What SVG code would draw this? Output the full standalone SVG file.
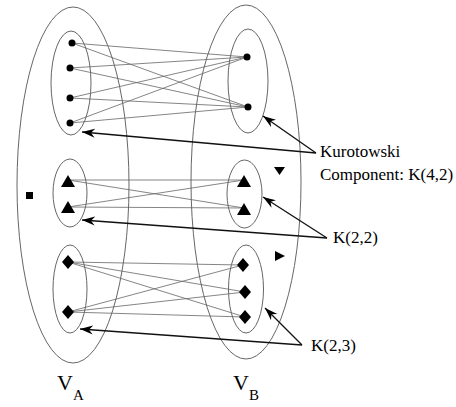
<svg xmlns="http://www.w3.org/2000/svg" width="456" height="407" viewBox="0 0 456 407">
<style>
.ell{fill:none;stroke:#666;stroke-width:1}
.e{stroke:#666;stroke-width:0.8;fill:none}
.arr{stroke:#111;stroke-width:1.3;fill:none;marker-end:url(#ah)}
.n{fill:#000}
.t{font-family:"Liberation Serif","Times New Roman",serif;fill:#000}
</style>
<defs>
<marker id="ah" markerUnits="userSpaceOnUse" markerWidth="14" markerHeight="10" refX="13" refY="4.5" orient="auto" viewBox="0 0 14 9">
<path d="M0,0 L13,4.5 L0,9 L4,4.5 Z" fill="#000"/>
</marker>
</defs>
<rect width="456" height="407" fill="#fff"/>
<g id="VA"><ellipse class="ell" cx="73" cy="185" rx="56" ry="178"/></g>
<g id="VB"><ellipse class="ell" cx="246" cy="182" rx="55" ry="177"/></g>
<g id="A1"><ellipse class="ell" cx="71" cy="83" rx="20" ry="52"/></g>
<g id="B1"><ellipse class="ell" cx="248" cy="81" rx="20" ry="52"/></g>
<g id="A2"><ellipse class="ell" cx="70" cy="193" rx="17" ry="34"/></g>
<g id="B2"><ellipse class="ell" cx="244.5" cy="194" rx="17.5" ry="34"/></g>
<g id="A3"><ellipse class="ell" cx="70" cy="289" rx="17" ry="44"/></g>
<g id="B3"><ellipse class="ell" cx="246" cy="289" rx="17.5" ry="44"/></g>
<g id="connectors">
<path class="e" d="M72,43 L247,57 M72,43 L248,107 M70,68 L247,57 M70,68 L248,107 M70,98 L247,57 M70,98 L248,107 M70,123 L247,57 M70,123 L248,107"/>
<path class="e" d="M68,180 L244,180 M68,180 L244,208 M68,207 L244,180 M68,207 L244,208"/>
<path class="e" d="M68,262 L243,265 M68,262 L245,292 M68,262 L245,317 M68,312 L243,265 M68,312 L245,292 M68,312 L245,317"/>
<path class="arr" d="M316,153 L82,132"/>
<path class="arr" d="M316,153 L263,116"/>
<path class="arr" d="M327,238 L82,220"/>
<path class="arr" d="M327,238 L263,197"/>
<path class="arr" d="M302,345 L80,329"/>
<path class="arr" d="M302,345 L265,308"/>
</g>
<g id="nodesA1">
<circle class="n" cx="72" cy="43" r="3.5"/>
<circle class="n" cx="70" cy="68" r="3.5"/>
<circle class="n" cx="70" cy="98" r="3.5"/>
<circle class="n" cx="70" cy="123" r="3.5"/>
</g>
<g id="nodesB1">
<circle class="n" cx="247" cy="57" r="3.5"/>
<circle class="n" cx="248" cy="107" r="3.5"/>
</g>
<g id="nodesA2">
<polygon class="n" points="68,175 75,187 61,187"/>
<polygon class="n" points="68,201 75,213 61,213"/>
</g>
<g id="nodesB2">
<polygon class="n" points="244,175 251,187 237,187"/>
<polygon class="n" points="244,203 251,215 237,215"/>
</g>
<g id="nodesA3">
<polygon class="n" points="68,255 74,262 68,269 62,262"/>
<polygon class="n" points="68,305 74,312 68,319 62,312"/>
</g>
<g id="nodesB3">
<polygon class="n" points="243,258 249,265 243,272 237,265"/>
<polygon class="n" points="245,285 251,292 245,299 239,292"/>
<polygon class="n" points="245,310 251,317 245,324 239,317"/>
</g>
<g id="isolated">
<rect class="n" x="26" y="192" width="7" height="7"/>
<polygon class="n" points="274,167 285,167 279.5,175"/>
<polygon class="n" points="275,251 275,261 285,256"/>
</g>
<g id="labels">
<text class="t" x="320" y="157" font-size="17">Kurotowski</text>
<text class="t" x="320" y="180" font-size="17">Component: K(4,2)</text>
<text class="t" x="333" y="243" font-size="17">K(2,2)</text>
<text class="t" x="311" y="351" font-size="17">K(2,3)</text>
<text class="t" x="57" y="390" font-size="22">V<tspan font-size="15" dy="10">A</tspan></text>
<text class="t" x="233" y="390" font-size="22">V<tspan font-size="15" dy="10">B</tspan></text>
</g>
</svg>
